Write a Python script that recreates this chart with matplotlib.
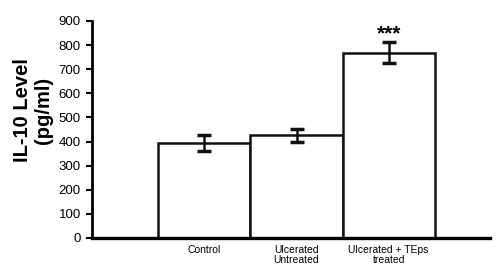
import matplotlib
matplotlib.use("Agg")
import matplotlib.pyplot as plt

categories = ["Control", "Ulcerated\nUntreated", "Ulcerated + TEps\ntreated"]
values = [394, 427, 768]
errors = [33, 27, 43]
yticks = [0, 100, 200, 300, 400, 500, 600, 700, 800, 900]
significance = ["", "", "***"]

plt.rcParams['font.family'] = ['Liberation Sans', 'DejaVu Sans']

fig = plt.figure(figsize=(5.01, 2.64), dpi=100)
W, H = 501, 264
left, right = 92, 490
bottom, top = 238, 21
ax = fig.add_axes([left / W, 1 - bottom / H, (right - left) / W, (bottom - top) / H])

x = list(range(len(categories)))
ax.bar(x, values, width=1.0, color='white', edgecolor='#111111', linewidth=1.8, zorder=2)
ax.errorbar(x, values, yerr=errors, fmt='none', ecolor='#111111', elinewidth=1.8,
            capsize=5, capthick=2.5, zorder=3)
for xi, v, e, s in zip(x, values, errors, significance):
    if s:
        ax.text(xi, v + e - 2, s, ha='center', va='bottom', fontsize=15, fontweight='bold')

ax.set_xlim(-1.22, 3.1)
ax.set_ylim(0, 900)
ax.set_yticks(yticks)
ax.set_yticklabels([str(t) for t in yticks], fontsize=9.5)
ax.set_xticks(x)
ax.set_xticklabels(categories, fontsize=7.5, linespacing=0.95)
ax.tick_params(axis='x', length=0, pad=5)
ax.tick_params(axis='y', length=4, width=1.5, direction='out', pad=4)
for sp in ['top', 'right']:
    ax.spines[sp].set_visible(False)
ax.spines['left'].set_linewidth(2)
ax.spines['bottom'].set_linewidth(2.4)
fig.text(33 / W, 1 - 110 / H, "IL-10 Level\n(pg/ml)", fontsize=14.5, fontweight='bold',
         linespacing=1.15, rotation=90, ha='center', va='center', multialignment='center')

fig.savefig("out.png", dpi=100)
